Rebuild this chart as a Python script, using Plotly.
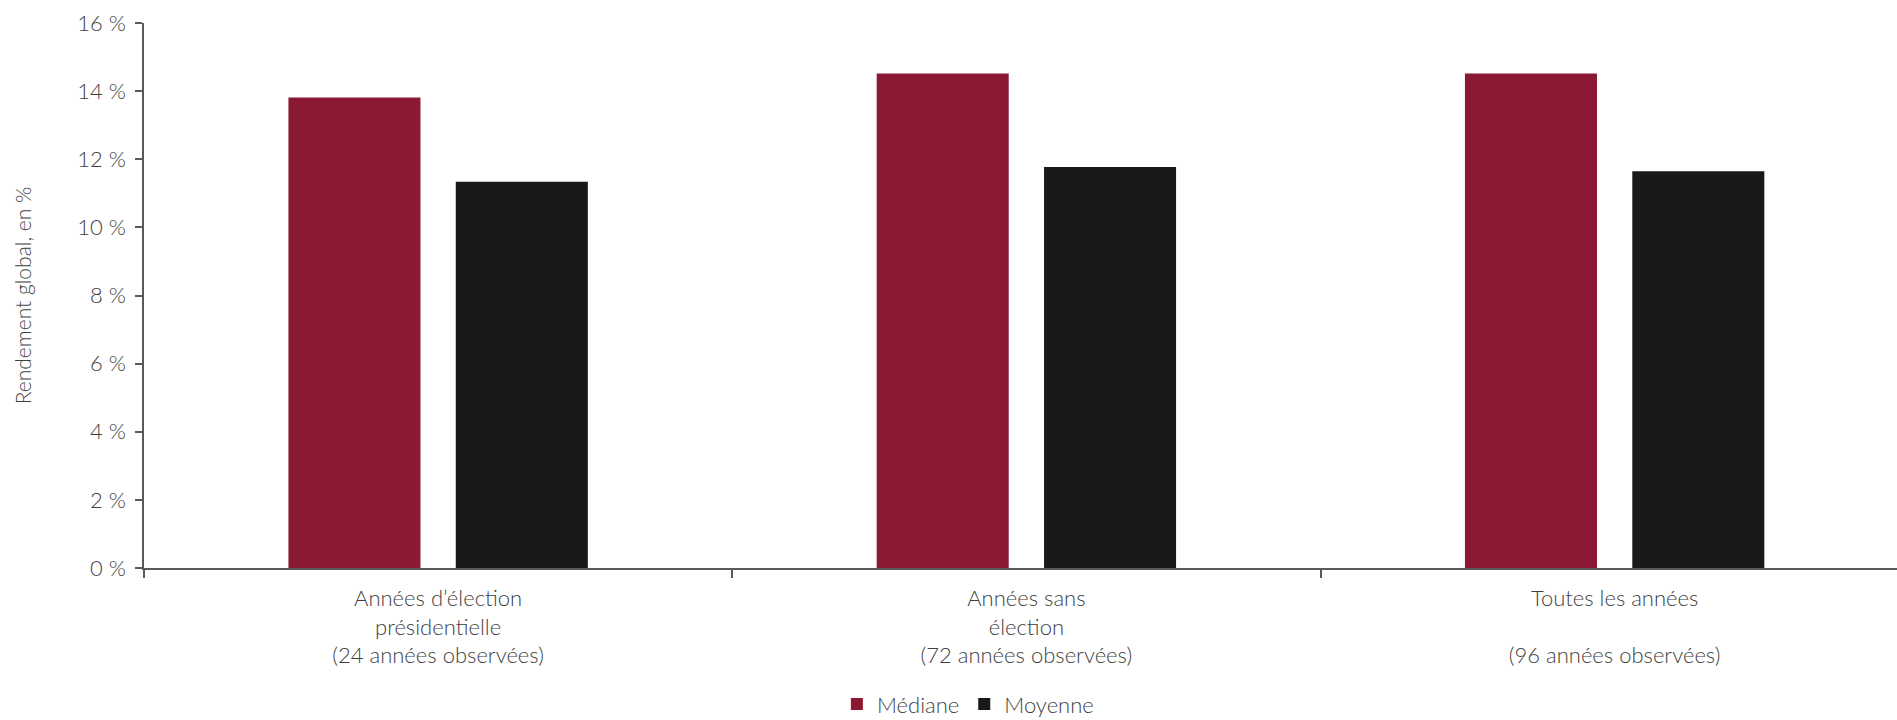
import plotly.graph_objects as go

# Categories (multi-line axis labels)
categories = [
    "Années d’élection<br>présidentielle<br>(24 années observées)",
    "Années sans<br>élection<br>(72 années observées)",
    "Toutes les années<br> <br>(96 années observées)",
]

# Total return, in %
mediane = [13.81, 14.52, 14.52]
moyenne = [11.34, 11.77, 11.65]

y_tickvals = [0, 2, 4, 6, 8, 10, 12, 14, 16]
y_ticktext = ["0 %", "2 %", "4 %", "6 %", "8 %", "10 %", "12 %", "14 %", "16 %"]

RED = "#8B1934"
BLACK = "#18191B"
TEXT = "#3f3f3f"
AXIS = "#5a5a5a"
FONT = "Lato"
W = 300

fig = go.Figure()
fig.add_trace(go.Bar(name="Médiane", x=categories, y=mediane,
                     marker=dict(color=RED, line=dict(width=0))))
fig.add_trace(go.Bar(name="Moyenne", x=categories, y=moyenne,
                     marker=dict(color=BLACK, line=dict(width=0))))

fig.update_layout(
    width=1897, height=720,
    margin=dict(l=143.5, r=0, t=23.3, b=151.7, autoexpand=False),
    paper_bgcolor="white", plot_bgcolor="white",
    barmode="group", bargap=0.431, bargroupgap=0.211,
    font=dict(family=FONT, color=TEXT, size=22, weight=W),
    showlegend=True,
    legend=dict(orientation="h", x=0.47, xanchor="center", y=-0.25, yanchor="middle",
                font=dict(family=FONT, size=22, color=TEXT, weight=W),
                itemwidth=30, traceorder="normal"),
)

fig.update_xaxes(
    range=[-0.5, 2.48],
    showline=True, linecolor=AXIS, linewidth=1.5,
    ticks="outside", tickson="boundaries", ticklen=8, tickwidth=1.5, tickcolor=AXIS,
    ticklabelstandoff=10,
    tickfont=dict(family=FONT, size=22, color=TEXT, weight=W),
    showgrid=False, zeroline=False, automargin=False,
)
fig.update_yaxes(
    range=[0, 16],
    tickvals=y_tickvals, ticktext=y_ticktext,
    showline=True, linecolor=AXIS, linewidth=1.5,
    ticks="outside", ticklen=7, tickwidth=1.5, tickcolor=AXIS,
    ticklabelstandoff=5,
    tickfont=dict(family=FONT, size=22, color=TEXT, weight=W),
    showgrid=False, zeroline=False, automargin=False,
    title=dict(text="Rendement global, en %", standoff=40,
               font=dict(family=FONT, size=21, color=TEXT, weight=W)),
)

fig.write_html("out.html")
